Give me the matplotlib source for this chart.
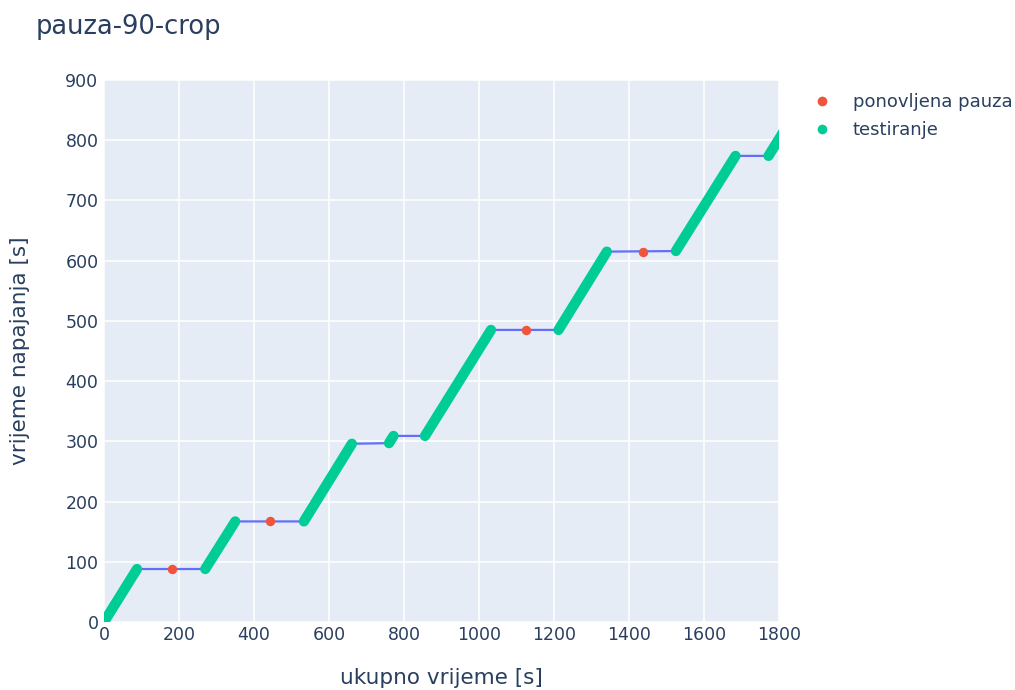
import matplotlib
matplotlib.use("Agg")
import matplotlib.pyplot as plt
from matplotlib.lines import Line2D

# testing segments (ukupno vrijeme -> vrijeme napajanja)
seg_start_x = [0, 270, 533, 760, 856, 1212, 1525, 1772]
seg_end_x = [88, 350, 661, 772, 1032, 1341, 1684, 1830]
seg_start_y = [0, 88, 167, 297, 309, 485, 616, 774]
seg_end_y = [88, 167, 296, 309, 485, 615, 774, 832]

# repeated pauses
pause_x = [181, 443, 1125, 1437]
pause_y = [88, 167, 485, 615]

title = "pauza-90-crop"
xlabel = "ukupno vrijeme [s]"
ylabel = "vrijeme napajanja [s]"
legend_labels = ["ponovljena pauza", "testiranje"]
xticks = [0, 200, 400, 600, 800, 1000, 1200, 1400, 1600, 1800]
yticks = [0, 100, 200, 300, 400, 500, 600, 700, 800, 900]

BG = "#E5ECF6"
TXT = "#2a3f5f"
GREEN = "#00cc96"
RED = "#EF553B"
BLUE = "#636efa"

plt.rcParams['font.family'] = ['DejaVu Sans']

fig = plt.figure(figsize=(10.15, 6.9), dpi=100)
ax = fig.add_axes([104/1015, 1-622/690, (779-104)/1015, (622-80)/690])
ax.set_facecolor(BG)

# blue connecting line
path_x, path_y = [], []
for sx, ex, sy, ey in zip(seg_start_x, seg_end_x, seg_start_y, seg_end_y):
    path_x += [sx, ex]
    path_y += [sy, ey]
ax.plot(path_x, path_y, color=BLUE, lw=1.6, zorder=2, solid_capstyle='round')

# green testing segments
for sx, ex, sy, ey in zip(seg_start_x, seg_end_x, seg_start_y, seg_end_y):
    ax.plot([sx, ex], [sy, ey], color=GREEN, lw=7.4, solid_capstyle='round', zorder=3)

ax.plot(pause_x, pause_y, 'o', color=RED, ms=6.8, mec='none', zorder=4)

ax.set_xlim(0, 1800)
ax.set_ylim(0, 900)
ax.set_xticks(xticks)
ax.set_yticks(yticks)
ax.grid(True, color='white', lw=1.1)
ax.set_axisbelow(True)
for s in ax.spines.values():
    s.set_visible(False)
ax.tick_params(length=0, labelsize=12.5, colors=TXT)
ax.tick_params(axis='y', pad=4)
ax.tick_params(axis='x', pad=3)

fig.text(441.5/1015, 1-678/690, xlabel, fontsize=15.5, color=TXT, ha='center', va='center')
fig.text(20/1015, 1-351/690, ylabel, fontsize=15.5, color=TXT, ha='center', va='center',
         rotation=90)
fig.text(36/1015, 1-27/690, title, fontsize=18.5, color=TXT, va='center', ha='left')

handles = [Line2D([], [], marker='o', ls='none', color=RED, mec='none', ms=7),
           Line2D([], [], marker='o', ls='none', color=GREEN, mec='none', ms=7)]
fig.legend(handles, legend_labels, loc='upper left',
           bbox_to_anchor=(810/1015, 1-93/690), frameon=False, fontsize=13,
           labelcolor=TXT, handletextpad=1.07, labelspacing=0.57, handlelength=1.3,
           borderaxespad=0, borderpad=0)

fig.savefig("out.png", dpi=100, facecolor='white')
